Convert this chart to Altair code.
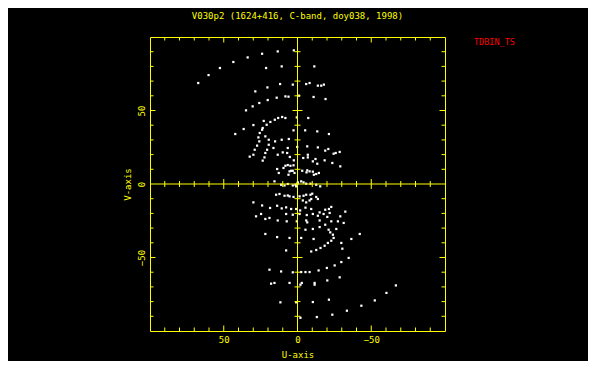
import altair as alt
import pandas as pd

TITLE = "V030p2 (1624+416, C-band, doy038, 1998)"
TAG = "TDBIN_TS"
X_TITLE = "U-axis"
Y_TITLE = "V-axis"

# u,v samples (upper half, v > 0)
u_upper = [33.8, 24.0, 13.4, 2.5, 43.5, 52.6, 60.3, 67.3, 21.3, 10.7, -11.4, 11.8, 3.2, -5.9, -8.2,
           -13.8, -16.1, -17.9, 28.6, 20.4, 14.1, 8.2, 6.1, -1.0, -10.9, -19.0, 25.9, 20.2, 30.4, 34.9,
           13.1, 15.4, 18.4, 20.9, 23.6, 10.4, 8.2, 0.5, -7.3, 22.9, 29.9, 36.5, 42.2, 24.0, 25.6,
           26.5, 25.9, 27.4, 29.0, 29.9, 32.4, 15.2, 10.7, 5.9, 2.7, -5.2, -13.4, -21.3, 19.5, 20.6,
           21.8, 22.4, 23.6, 6.6, 0.2, -6.6, -13.8, -18.8, -20.9, -24.5, -25.9, -28.6, 7.0, 5.2, 2.5,
           -3.9, -7.0, -7.0, -10.4, -12.2, -13.4, -18.4, -23.6, -29.0, 8.2, 6.6, 4.8, 9.5, 2.7, 13.8,
           12.7, 5.4, 4.3, 3.2, 2.0, 6.1, -3.2, -6.1, -6.6, -8.2, -10.4, -11.1, -12.7, -14.5, 15.6,
           -0.2, -2.5, -4.1, -5.9, -8.8, 0.0, 21.8, 19.5, 16.3, 13.4, 10.0]
v_upper = [86.1, 88.6, 90.2, 90.9, 83.0, 78.9, 74.1, 68.7, 78.9, 80.0, 80.0, 68.0, 67.6, 68.0, 68.7,
           66.9, 66.9, 67.6, 63.0, 65.7, 58.7, 59.6, 59.4, 60.1, 59.2, 57.8, 55.1, 57.1, 52.8, 50.1,
           44.9, 43.7, 42.2, 40.3, 38.1, 45.6, 44.9, 45.3, 44.9, 42.9, 40.1, 37.4, 34.0, 36.9, 34.7,
           31.7, 29.0, 26.1, 23.3, 19.9, 18.6, 29.0, 30.1, 30.6, 36.5, 36.5, 35.8, 34.0, 26.7, 23.3,
           21.1, 18.1, 15.9, 24.5, 25.2, 25.6, 24.9, 22.7, 23.8, 20.6, 21.1, 21.8, 21.1, 18.4, 16.1,
           17.7, 19.9, 18.1, 15.4, 17.0, 13.8, 16.1, 14.3, 12.0, 12.4, 12.9, 12.4, 10.9, 12.7, 10.2,
           7.5, 8.6, 9.0, 9.0, 7.5, 6.3, 9.0, 7.9, 9.3, 8.6, 8.4, 6.3, 6.8, 7.5, 1.8,
           1.1, 1.8, 1.1, 0.2, 0.2, 0.2, 32.4, 30.1, 24.5, 19.9, 21.5]

# lower half (v <= 0)
u_lower = [14.5, 12.2, 8.8, 6.6, 5.4, 2.7, -1.4, -4.1, -5.9, -8.8, -10.0, -3.6, -5.9, -8.2, -9.3,
           -12.7, -13.8, 29.9, 24.0, 18.6, 13.8, 10.7, 7.7, 4.3, 0.9, -1.8, -5.4, -9.3, -15.0, -18.8,
           -21.3, -22.9, -32.4, 28.1, 24.7, 19.0, 13.4, 7.7, 3.2, -1.4, -6.3, -10.4, -13.8, -17.7, -20.2,
           -21.8, -29.0, 21.8, 7.3, 0.5, -5.9, -6.6, -15.0, -18.8, -22.9, -27.4, -31.3, -5.4, -10.4, -15.0,
           -21.1, -22.2, -24.0, -24.5, -22.9, -20.6, -18.4, -15.6, -12.7, -9.3, -26.3, -29.7, -42.2, -36.5, 21.8,
           13.8, 5.4, -2.5, -10.9, 7.7, -30.4, -34.7, -29.7, -25.2, -19.9, -14.3, -8.2, -5.4, -2.5, 3.2,
           11.1, 19.0, -28.6, -20.2, -11.6, -11.6, -2.9, -2.0, 5.4, 15.6, 17.9, -66.7, -60.3, -52.4, -43.3,
           -33.5, -23.6, -13.1, -2.0, -21.3, -10.4, 0.9, 11.6,
           11.1, 8.8, 6.6, 3.2, 1.4, -12.7, -15.4, 0.9]
v_lower = [-7.3, -6.8, -8.0, -7.8, -8.4, -8.8, -8.4, -8.0, -7.3, -7.3, -6.6, -11.2, -12.5, -11.2, -10.2,
           -8.8, -10.2, -12.5, -14.6, -16.3, -14.8, -16.6, -15.9, -17.0, -17.0, -18.0, -16.1, -17.0, -19.3, -17.5,
           -17.0, -15.6, -18.8, -22.0, -20.4, -23.1, -24.8, -20.4, -20.9, -20.4, -21.1, -20.4, -21.6, -20.4, -22.4,
           -19.7, -22.0, -23.8, -25.4, -25.4, -24.8, -26.1, -24.8, -27.7, -25.4, -25.4, -26.5, -31.1, -30.6, -29.3,
           -31.1, -32.9, -34.5, -36.7, -38.6, -40.1, -42.0, -43.5, -44.9, -45.9, -30.6, -40.1, -34.0, -37.4, -34.0,
           -36.1, -36.7, -36.7, -37.4, -45.2, -44.0, -50.3, -53.1, -55.4, -57.1, -58.8, -59.9, -59.9, -59.9, -60.1,
           -59.5, -58.3, -63.5, -65.6, -67.3, -68.5, -67.3, -68.5, -67.3, -67.3, -67.8, -69.0, -74.1, -79.2, -82.8,
           -86.2, -88.9, -90.5, -91.0, -78.7, -80.3, -80.5, -80.5,
           -0.5, -1.0, 0.0, -1.0, -0.5, -0.5, -1.6, -1.6]

axis_labels = [-50, 0, 50]
minor_ticks = [-90, -80, -70, -60, -40, -30, -20, -10, 10, 20, 30, 40, 60, 70, 80, 90]
major_ticks = [-50, 50]
LIM = 100

YELLOW = "#ffff00"
FONT = "DejaVu Sans Mono"
W, H = 295, 294

pts = pd.DataFrame({"u": u_upper + u_lower, "v": v_upper + v_lower})
xs = alt.Scale(domain=[-LIM, LIM], reverse=True, nice=False, zero=False)
ys = alt.Scale(domain=[-LIM, LIM], nice=False, zero=False)
XAX = alt.Axis(title=X_TITLE, values=axis_labels, labelPadding=4, titlePadding=6)
YAX = alt.Axis(title=Y_TITLE, values=axis_labels, labelAngle=270, labelAlign="center",
               labelBaseline="alphabetic", labelPadding=6, titlePadding=5)

points = alt.Chart(pts).mark_square(size=5, color="white", opacity=1, strokeWidth=0).encode(
    x=alt.X("u:Q", scale=xs, axis=XAX),
    y=alt.Y("v:Q", scale=ys, axis=YAX),
)

zero = pd.DataFrame({"z": [0]})
vline = alt.Chart(zero).mark_rule(color=YELLOW, strokeWidth=1).encode(
    x=alt.X("z:Q", scale=xs, axis=XAX))
hline = alt.Chart(zero).mark_rule(color=YELLOW, strokeWidth=1).encode(
    y=alt.Y("z:Q", scale=ys, axis=YAX))


def tick_layers(vals, edge_len, half_len):
    base = alt.Chart(pd.DataFrame({"t": vals}))
    tx = alt.X("t:Q", scale=xs, axis=XAX)
    ty = alt.Y("t:Q", scale=ys, axis=YAX)
    kw = dict(color=YELLOW, strokeWidth=1)
    return [
        base.mark_rule(y2Offset=-edge_len, **kw).encode(
            x=tx, y=alt.YDatum(-LIM, scale=ys, axis=YAX), y2=alt.Y2Datum(-LIM)),
        base.mark_rule(y2Offset=edge_len, **kw).encode(
            x=tx, y=alt.YDatum(LIM, scale=ys, axis=YAX), y2=alt.Y2Datum(LIM)),
        base.mark_rule(x2Offset=edge_len, **kw).encode(
            y=ty, x=alt.XDatum(LIM, scale=xs, axis=XAX), x2=alt.X2Datum(LIM)),
        base.mark_rule(x2Offset=-edge_len, **kw).encode(
            y=ty, x=alt.XDatum(-LIM, scale=xs, axis=XAX), x2=alt.X2Datum(-LIM)),
        base.mark_rule(xOffset=-half_len, x2Offset=half_len, **kw).encode(
            y=ty, x=alt.XDatum(0, scale=xs, axis=XAX), x2=alt.X2Datum(0)),
        base.mark_rule(yOffset=-half_len, y2Offset=half_len, **kw).encode(
            x=tx, y=alt.YDatum(0, scale=ys, axis=YAX), y2=alt.Y2Datum(0)),
    ]


tag = alt.Chart(pd.DataFrame({"t": [TAG]})).mark_text(
    color="#ff0000", font=FONT, fontSize=8.5, align="left", baseline="middle", x=324, y=5
).encode(text="t:N")

chart = alt.layer(
    points, vline, hline,
    *tick_layers(minor_ticks, 3.5, 3),
    *tick_layers(major_ticks, 5.5, 5),
    tag,
).properties(
    width=W, height=H,
    title=alt.Title(TITLE, font=FONT, fontSize=9, color=YELLOW, fontWeight="normal",
                    anchor="middle", offset=9, baseline="alphabetic"),
    autosize=alt.AutoSizeParams(type="none"),
    padding={"left": 142, "top": 29, "right": 143, "bottom": 30},
).configure(
    background="black",
).configure_view(
    stroke=YELLOW, strokeWidth=1,
).configure_axis(
    labelFont=FONT, labelFontSize=9, labelColor=YELLOW,
    titleFont=FONT, titleFontSize=9, titleColor=YELLOW, titleFontWeight="normal",
    domain=False, ticks=False, tickSize=0, grid=False, labelFlush=False,
)

chart.save("out.html", embed_options={"renderer": "svg", "actions": False})
